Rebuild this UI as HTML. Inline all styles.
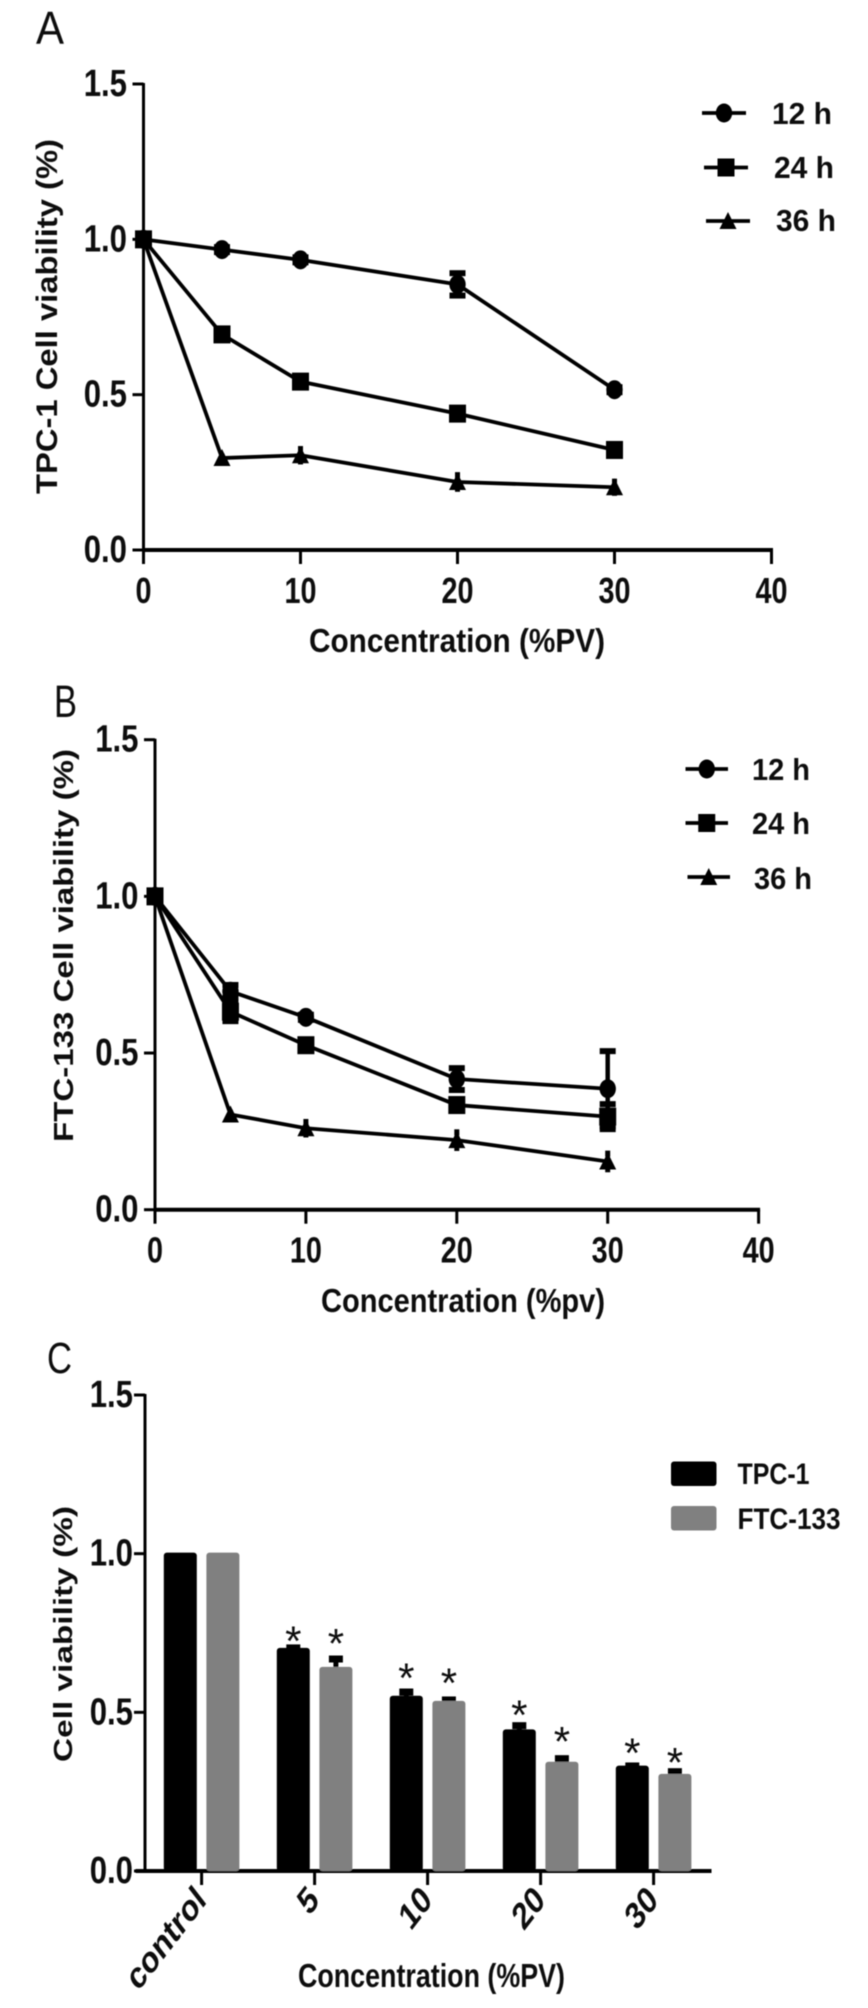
<!DOCTYPE html>
<html>
<head>
<meta charset="utf-8">
<title>Cell viability charts</title>
<style>
html,body{margin:0;padding:0;background:#fff;}
svg{display:block;}
text{font-family:"Liberation Sans",sans-serif;fill:#111;}
.b{font-weight:bold;}
</style>
</head>
<body>
<svg xmlns="http://www.w3.org/2000/svg" width="868" height="2008" viewBox="0 0 868 2008">
<defs><filter id="soft" x="0" y="0" width="100%" height="100%"><feGaussianBlur stdDeviation="0.6"/></filter></defs>
<rect width="868" height="2008" fill="#fff"/>
<g id="root" filter="url(#soft)">
  <text x="36" y="44" font-size="46" textLength="28" lengthAdjust="spacingAndGlyphs">A</text>
  <text x="54" y="717" font-size="45" textLength="23" lengthAdjust="spacingAndGlyphs">B</text>
  <text x="47" y="1373" font-size="44" textLength="25" lengthAdjust="spacingAndGlyphs">C</text>

  <text class="b" transform="translate(57,494) rotate(-90)" font-size="30" textLength="355" lengthAdjust="spacingAndGlyphs">TPC-1 Cell viability (%)</text>
  <text class="b" x="309" y="652" font-size="33" textLength="296" lengthAdjust="spacingAndGlyphs">Concentration (%PV)</text>

  <text class="b" transform="translate(73,1142) rotate(-90)" font-size="28" textLength="393" lengthAdjust="spacingAndGlyphs">FTC-133 Cell viability (%)</text>
  <text class="b" x="321" y="1312" font-size="33" textLength="284" lengthAdjust="spacingAndGlyphs">Concentration (%pv)</text>

  <text class="b" transform="translate(72,1762) rotate(-90)" font-size="26" textLength="256" lengthAdjust="spacingAndGlyphs">Cell viability (%)</text>
  <text class="b" x="298" y="1987" font-size="33" textLength="267" lengthAdjust="spacingAndGlyphs">Concentration (%PV)</text>

  <text class="b" x="772" y="124" font-size="31" textLength="60" lengthAdjust="spacingAndGlyphs">12 h</text>
  <text class="b" x="774" y="178" font-size="31" textLength="60" lengthAdjust="spacingAndGlyphs">24 h</text>
  <text class="b" x="776" y="231" font-size="31" textLength="60" lengthAdjust="spacingAndGlyphs">36 h</text>

  <text class="b" x="752" y="780" font-size="31" textLength="58" lengthAdjust="spacingAndGlyphs">12 h</text>
  <text class="b" x="752" y="834" font-size="31" textLength="58" lengthAdjust="spacingAndGlyphs">24 h</text>
  <text class="b" x="754" y="889" font-size="31" textLength="58" lengthAdjust="spacingAndGlyphs">36 h</text>

  <rect x="671" y="1461.5" width="45.5" height="24.5" rx="3" fill="#000"/>
  <rect x="671" y="1506" width="45.5" height="24.5" rx="3" fill="#808080"/>
  <text class="b" x="737.5" y="1484" font-size="30" textLength="72" lengthAdjust="spacingAndGlyphs">TPC-1</text>
  <text class="b" x="737.5" y="1529" font-size="30" textLength="103" lengthAdjust="spacingAndGlyphs">FTC-133</text>
</g>
<script>
// ---------- chart data ----------
const doses = [0, 5, 10, 20, 30];
const yTickLabels = ['0.0', '0.5', '1.0', '1.5'];
const xTickLabels = ['0', '10', '20', '30', '40'];

const tpc12h = [1, 0.967, 0.934, 0.855, 0.516];
const tpc24h = [1, 0.694, 0.542, 0.439, 0.322];
const tpc36h = [1, 0.296, 0.305, 0.219, 0.202];
const tpc12hErr = [0, 0.008, 0.008, 0.036, 0.008];
const tpc24hErr = [0, 0.008, 0.008, 0.008, 0.008];
const tpc36hErr = [0, 0.005, 0.02, 0.022, 0.018];

const ftc12h = [1, 0.697, 0.614, 0.417, 0.386];
const ftc24h = [1, 0.632, 0.525, 0.334, 0.297];
const ftc36h = [1, 0.304, 0.26, 0.222, 0.154];
const ftc12hErr = [0, 0.02, 0.008, 0.035, 0.12];
const ftc24hErr = [0, 0.03, 0.008, 0.008, 0.04];
const ftc36hErr = [0, 0.005, 0.02, 0.025, 0.025];

const barCategories = ['control', '5', '10', '20', '30'];
const barTpc = [1, 0.70, 0.549, 0.443, 0.329];
const barFtc = [1, 0.64, 0.533, 0.341, 0.303];
const barTpcErr = [0, 0.003, 0.015, 0.015, 0.002];
const barFtcErr = [0, 0.028, 0.006, 0.013, 0.01];
const starTpc = [null, 0.745, 0.628, 0.512, 0.392];
const starFtc = [null, 0.738, 0.613, 0.429, 0.362];

// ---------- drawing helpers ----------
const NS = 'http://www.w3.org/2000/svg';
const root = document.getElementById('root');

function make(tag, name, props) {
  const el = document.createElementNS(NS, tag);
  for (const k in props) el.setAttribute(k, props[k]);
  
  
  root.appendChild(el);
  return el;
}
function line(name, x1, y1, x2, y2, w) {
  return make('line', name, {x1: x1, y1: y1, x2: x2, y2: y2, stroke: '#000', 'stroke-width': w});
}
function label(name, str, x, y, size, sx, anchor) {
  const t = make('text', name, {
    transform: 'translate(' + x + ',' + y + ') scale(' + sx + ',1)',
    'font-size': size, 'font-weight': 'bold', 'text-anchor': anchor
  });
  t.textContent = str;
  return t;
}
function marker(name, kind, x, y) {
  if (kind === 'circle') {
    make('ellipse', name, {cx: x, cy: y, rx: 8.2, ry: 9.5, fill: '#000'});
  } else if (kind === 'square') {
    make('rect', name, {x: x - 8.5, y: y - 9, width: 17, height: 18, fill: '#000'});
  } else {
    make('path', name, {d: 'M' + x + ' ' + (y - 9) + 'L' + (x + 8.5) + ' ' + (y + 8) + 'L' + (x - 8.5) + ' ' + (y + 8) + 'Z', fill: '#000'});
  }
}
function yAxis(prefix, g, yScale, labelRight) {
  line(prefix + '-y-axis', g.x0, yScale(1.5) - 1, g.x0, yScale(0) + 2, 3);
  yTickLabels.forEach(function (s) {
    const v = parseFloat(s);
    line(prefix + '-y-tick-' + s, g.x0 - 11, yScale(v), g.x0, yScale(v), 3);
    label(prefix + '-y-tick-label-' + s, s, labelRight, yScale(v) + 12, 38, 0.82, 'end');
  });
}
function lineChart(prefix, g, series) {
  const xScale = function (v) { return g.x0 + v * (g.x40 - g.x0) / 40; };
  const yScale = function (v) { return g.y0 - v * (g.y0 - g.y15) / 1.5; };
  yAxis(prefix, g, yScale, g.labelRight);
  line(prefix + '-x-axis', g.x0 - 1.5, g.y0, g.x40 + 1.5, g.y0, 4);
  xTickLabels.forEach(function (s) {
    const v = parseFloat(s);
    line(prefix + '-x-tick-' + s, xScale(v), g.y0, xScale(v), g.y0 + 14, 3);
    label(prefix + '-x-tick-label-' + s, s, xScale(v), g.y0 + g.xLabelDy, 36, 0.8, 'middle');
  });
  series.forEach(function (sr) {
    const pts = doses.map(function (d, i) { return xScale(d) + ',' + yScale(sr.values[i]); }).join(' ');
    make('polyline', prefix + '-line-' + sr.key, {points: pts, fill: 'none', stroke: '#000', 'stroke-width': 3.8, 'stroke-linejoin': 'round'});
    doses.forEach(function (d, i) {
      const e = sr.err[i];
      if (e > 0) {
        const x = xScale(d);
        const hi = yScale(sr.values[i] + e);
        const lo = yScale(sr.values[i] - e);
        line(prefix + '-error-' + sr.key + '-' + d, x, hi, x, lo, 4.5);
        line(prefix + '-cap-top-' + sr.key + '-' + d, x - sr.cap, hi, x + sr.cap, hi, 6);
        line(prefix + '-cap-bottom-' + sr.key + '-' + d, x - sr.cap, lo, x + sr.cap, lo, 6);
      }
      marker(prefix + '-point-' + sr.key + '-' + d, sr.kind, xScale(d), yScale(sr.values[i]));
    });
  });
}
function legendRow(name, kind, x1, x2, y) {
  line(name + '-line', x1, y, x2, y, 3.8);
  marker(name + '-marker', kind, (x1 + x2) / 2, y);
}

// ---------- panel A ----------
lineChart('panel-a', {x0: 143.5, x40: 771.5, y0: 550, y15: 84, labelRight: 127, xLabelDy: 53}, [
  {key: '36h', kind: 'triangle', values: tpc36h, err: tpc36hErr, cap: 2.5},
  {key: '24h', kind: 'square', values: tpc24h, err: tpc24hErr, cap: 8},
  {key: '12h', kind: 'circle', values: tpc12h, err: tpc12hErr, cap: 8}
]);
legendRow('panel-a-legend-12h', 'circle', 702, 746, 113);
legendRow('panel-a-legend-24h', 'square', 704, 748, 167.5);
legendRow('panel-a-legend-36h', 'triangle', 706, 750, 221);

// ---------- panel B ----------
lineChart('panel-b', {x0: 155, x40: 758.6, y0: 1209.7, y15: 739.7, labelRight: 138.5, xLabelDy: 53}, [
  {key: '36h', kind: 'triangle', values: ftc36h, err: ftc36hErr, cap: 2.5},
  {key: '24h', kind: 'square', values: ftc24h, err: ftc24hErr, cap: 8},
  {key: '12h', kind: 'circle', values: ftc12h, err: ftc12hErr, cap: 8}
]);
legendRow('panel-b-legend-12h', 'circle', 685.5, 728, 769);
legendRow('panel-b-legend-24h', 'square', 685.5, 728, 823);
legendRow('panel-b-legend-36h', 'triangle', 687.5, 730, 877);

// ---------- panel C ----------
(function () {
  const g = {x0: 145, y0: 1871, y15: 1395, first: 201.6, step: 113, offset: 21.3, barW: 33};
  const yScale = function (v) { return g.y0 - v * (g.y0 - g.y15) / 1.5; };
  const xScale = function (i) { return g.first + i * g.step; };
  yAxis('panel-c', g, yScale, 133);
  line('panel-c-x-axis', 135.6, g.y0, 711.5, g.y0, 4);

  function bars(key, values, errs, stars, color, dir) {
    values.forEach(function (v, i) {
      const cx = xScale(i) + dir * g.offset;
      if (errs[i] > 0) {
        line('panel-c-error-' + key + '-' + barCategories[i], cx, yScale(v), cx, yScale(v + errs[i]), 5);
        line('panel-c-cap-' + key + '-' + barCategories[i], cx - 7, yScale(v + errs[i]), cx + 7, yScale(v + errs[i]), 7);
      }
      make('rect', 'panel-c-bar-' + key + '-' + barCategories[i], {
        x: cx - g.barW / 2, y: yScale(v) - 1, width: g.barW, height: g.y0 - yScale(v) + 1, rx: 3, fill: color
      });
      if (stars[i] !== null) {
        const st = make('text', 'panel-c-star-' + key + '-' + barCategories[i], {
          x: cx, y: yScale(stars[i]) + 21, 'font-size': 42, 'text-anchor': 'middle'
        });
        st.textContent = '*';
      }
    });
  }
  bars('tpc1', barTpc, barTpcErr, starTpc, '#000', -1);
  bars('ftc133', barFtc, barFtcErr, starFtc, '#808080', 1);

  barCategories.forEach(function (c, i) {
    const x = xScale(i);
    line('panel-c-x-tick-' + c, x, g.y0, x, g.y0 + 14, 3);
    const t = make('text', 'panel-c-x-tick-label-' + c, {
      transform: 'translate(' + (x + 6) + ',' + 1902 + ') scale(0.88,1.14) rotate(-45)',
      'font-size': 33, 'font-weight': 'bold', 'text-anchor': 'end'
    });
    t.textContent = c;
  });
})();
</script>
</svg>
</body>
</html>
